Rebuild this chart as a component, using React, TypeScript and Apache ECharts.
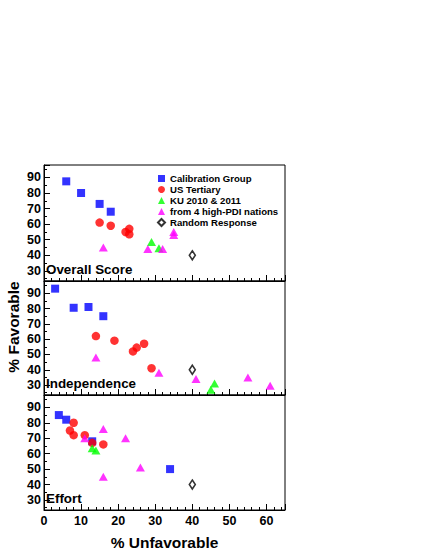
import React, { useEffect, useRef } from 'react';
import * as echarts from 'echarts';

const groupNames = ['Calibration Group', 'US Tertiary', 'KU 2010 & 2011', 'from 4 high-PDI nations', 'Random Response'];
const panelTitles = ['Overall Score', 'Independence', 'Effort'];

// Overall Score panel: [% Unfavorable, % Favorable]
const overallCalibration = [[6, 87.5], [10, 80], [15, 73], [18, 68]];
const overallUS = [[15, 61], [18, 59], [22, 55], [23, 57], [23, 53.5]];
const overallKU = [[29, 48.5], [31, 44.5]];
const overallPDI = [[16, 45], [28, 44], [32, 44], [35, 55], [35, 53]];
const overallRandom = [[40, 40]];

// Independence panel
const independenceCalibration = [[3, 93], [8, 80.5], [12, 81], [16, 75]];
const independenceUS = [[14, 62], [19, 59], [24, 52], [25, 54.5], [27, 57], [29, 41]];
const independenceKU = [[45, 27], [46, 31]];
const independencePDI = [[14, 48], [31, 38], [41, 34], [55, 35], [61, 29.5]];
const independenceRandom = [[40, 40]];

// Effort panel
const effortCalibration = [[4, 85], [6, 82], [13, 68], [34, 50]];
const effortUS = [[8, 80], [7, 75], [8, 72], [11, 72], [13, 67], [16, 66]];
const effortKU = [[13, 63.5], [14, 62]];
const effortPDI = [[11, 70], [16, 76], [22, 70], [26, 51], [16, 45]];
const effortRandom = [[40, 40]];

const FONT = '"Liberation Sans", Arial, Helvetica, sans-serif';

export default function App() {
  const ref = useRef<HTMLDivElement>(null);

  useEffect(() => {
    const chart = echarts.init(ref.current!, null, { renderer: 'svg' });

    const panels = [
      [overallCalibration, overallUS, overallKU, overallPDI, overallRandom],
      [independenceCalibration, independenceUS, independenceKU, independencePDI, independenceRandom],
      [effortCalibration, effortUS, effortKU, effortPDI, effortRandom],
    ];

    const gridBoxes = [
      { top: 165, height: 116 },
      { top: 281, height: 114 },
      { top: 395, height: 115 },
    ];

    const styles: any[] = [
      { symbol: 'rect', symbolSize: 8, itemStyle: { color: '#0000ff' } },
      { symbol: 'circle', symbolSize: 8.5, itemStyle: { color: '#ff0000' } },
      { symbol: 'triangle', symbolSize: [9, 8], itemStyle: { color: '#00ff00' } },
      { symbol: 'triangle', symbolSize: [9, 8], itemStyle: { color: '#ff00ff' } },
      { symbol: 'diamond', symbolSize: [6, 9], itemStyle: { color: '#ffffff', borderColor: '#000000', borderWidth: 1.6 } },
    ];

    const grid = gridBoxes.map((g) => ({
      left: 44,
      width: 241,
      top: g.top,
      height: g.height,
      show: true,
      borderColor: '#000',
      borderWidth: 1,
      backgroundColor: 'transparent',
    }));

    const xAxis = gridBoxes.map((_, i) => ({
      gridIndex: i,
      type: 'value',
      min: 0,
      max: 65,
      interval: 10,
      axisLine: { show: true, onZero: false, lineStyle: { color: '#000', width: 1 } },
      axisTick: { show: true, inside: true, length: 6, lineStyle: { color: '#000' } },
      minorTick: { show: true, splitNumber: 5, length: 3, lineStyle: { color: '#000' } },
      splitLine: { show: false },
      axisLabel: {
        show: i === 2,
        showMaxLabel: false,
        color: '#000',
        fontWeight: 'bold',
        fontSize: 12.5,
        fontFamily: FONT,
        margin: 4,
      },
    }));

    const yAxis = gridBoxes.map((_, i) => ({
      gridIndex: i,
      type: 'value',
      min: 23.5,
      max: 98,
      splitNumber: 7,
      axisLine: { show: true, onZero: false, lineStyle: { color: '#000', width: 1 } },
      axisTick: { show: true, inside: true, length: 6, lineStyle: { color: '#000' } },
      minorTick: { show: true, splitNumber: 2, length: 3, lineStyle: { color: '#000' } },
      splitLine: { show: false },
      axisLabel: {
        showMinLabel: false,
        showMaxLabel: false,
        color: '#000',
        fontWeight: 'bold',
        fontSize: 12.5,
        fontFamily: FONT,
        margin: 3,
      },
    }));

    const series: any[] = [];
    panels.forEach((groups, i) => {
      groups.forEach((data, k) => {
        series.push({
          type: 'scatter',
          name: groupNames[k],
          xAxisIndex: i,
          yAxisIndex: i,
          data,
          ...styles[k],
        });
      });
    });

    const titleY = [269, 383, 498];

    chart.setOption({
      animation: false,
      backgroundColor: '#ffffff',
      grid,
      xAxis,
      yAxis,
      series,
      legend: {
        left: 152,
        top: 168,
        orient: 'vertical',
        itemWidth: 7,
        itemHeight: 7,
        itemGap: 0,
        selectedMode: false,
        data: groupNames,
        textStyle: {
          fontSize: 9.6,
          fontWeight: 'bold',
          fontFamily: FONT,
          color: '#000',
          lineHeight: 11,
        },
      },
      graphic: [
        ...panelTitles.map((t, i) => ({
          type: 'text',
          x: 46,
          y: titleY[i],
          style: {
            text: t,
            fontSize: 13.4,
            fontWeight: 'bold',
            fontFamily: FONT,
            fill: '#000',
            align: 'left',
            textAlign: 'left',
            verticalAlign: 'middle',
            textVerticalAlign: 'middle',
          },
        })),
        {
          type: 'text',
          x: 164.5,
          y: 542,
          style: {
            text: '% Unfavorable',
            fontSize: 15.5,
            fontWeight: 'bold',
            fontFamily: FONT,
            fill: '#000',
            align: 'center',
            textAlign: 'center',
            verticalAlign: 'middle',
            textVerticalAlign: 'middle',
          },
        },
        {
          type: 'text',
          x: 13,
          y: 327,
          rotation: Math.PI / 2,
          style: {
            text: '% Favorable',
            fontSize: 15.5,
            fontWeight: 'bold',
            fontFamily: FONT,
            fill: '#000',
            align: 'center',
            textAlign: 'center',
            verticalAlign: 'middle',
            textVerticalAlign: 'middle',
          },
        },
      ],
    });

    return () => {
      chart.dispose();
    };
  }, []);

  return (
    <div
      ref={ref}
      style={{ position: 'absolute', left: 0, top: 0, width: 425, height: 550 }}
    />
  );
}
